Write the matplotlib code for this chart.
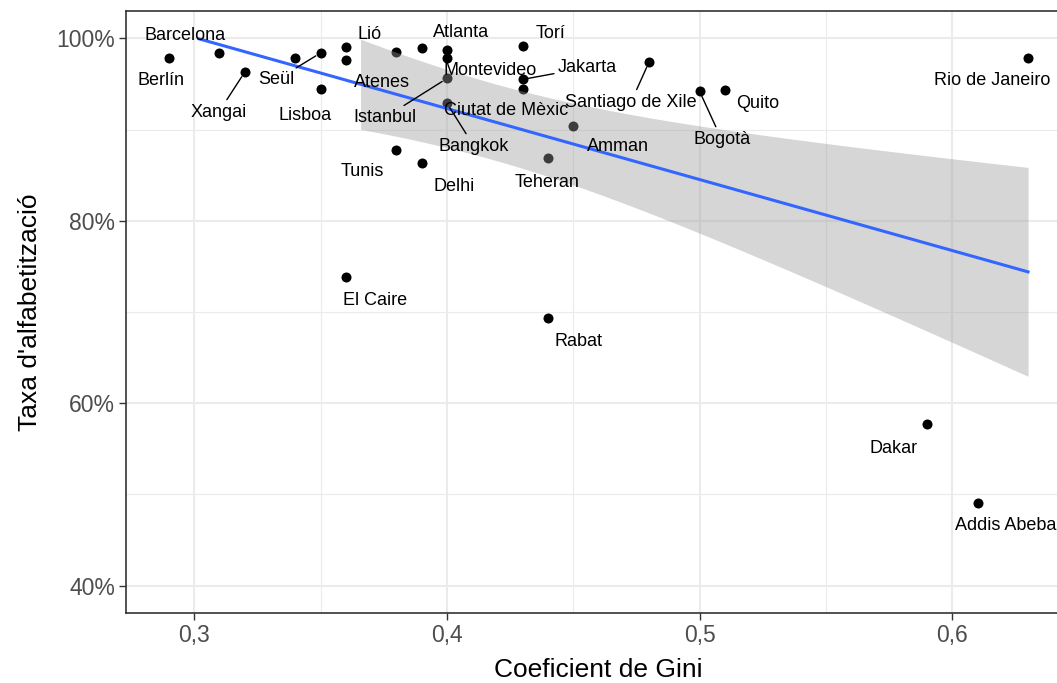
import matplotlib
matplotlib.use("Agg")
import matplotlib.pyplot as plt
import numpy as np

# data (Gini coefficient vs literacy rate)
cities = ["Berlín", "Barcelona", "Xangai", "", "Seül", "Lisboa", "Lió", "Atenes",
          "", "", "Atlanta", "Montevideo", "Istanbul", "Bangkok", "Torí", "Jakarta",
          "Ciutat de Mèxic", "Amman", "Teheran", "Santiago de Xile", "Bogotà", "Quito",
          "Rio de Janeiro", "Tunis", "Delhi", "El Caire", "Rabat", "Dakar", "Addis Abeba"]
gini = [0.29, 0.31, 0.32, 0.34, 0.35, 0.35, 0.36, 0.36,
        0.38, 0.39, 0.40, 0.40, 0.40, 0.40, 0.43, 0.43,
        0.43, 0.45, 0.44, 0.48, 0.50, 0.51,
        0.63, 0.38, 0.39, 0.36, 0.44, 0.59, 0.61]
literacy = [0.978, 0.984, 0.963, 0.978, 0.984, 0.945, 0.990, 0.976,
            0.985, 0.989, 0.987, 0.979, 0.956, 0.929, 0.992, 0.955,
            0.945, 0.904, 0.869, 0.974, 0.942, 0.943,
            0.978, 0.878, 0.863, 0.738, 0.693, 0.577, 0.491]

x_ticks = [0.3, 0.4, 0.5, 0.6]
x_ticklabels = ["0,3", "0,4", "0,5", "0,6"]
y_ticks = [0.4, 0.6, 0.8, 1.0]
y_ticklabels = ["40%", "60%", "80%", "100%"]

# label placement (pixel offsets from the point), and which ones get a segment
label_offsets = {
    "Berlín": (-8, -22), "Barcelona": (-34, 17), "Xangai": (-26, -40),
    "Seül": (-44, -27), "Lisboa": (-15, -27), "Lió": (24, 13),
    "Atenes": (36, -22), "Istanbul": (-62, -39), "Atlanta": (14, 18),
    "Montevideo": (43, -13), "Ciutat de Mèxic": (-17, -22), "Bangkok": (27, -43),
    "Torí": (28, 12), "Jakarta": (65, 12), "Santiago de Xile": (-18, -40),
    "Bogotà": (22, -48), "Quito": (33, -13), "Rio de Janeiro": (-36, -22),
    "Tunis": (-34, -22), "Delhi": (32, -23), "Teheran": (-1, -25),
    "Amman": (45, -21), "El Caire": (29, -23), "Rabat": (31, -23),
    "Dakar": (-33, -24), "Addis Abeba": (28, -23),
}
with_segment = ["Xangai", "Seül", "Istanbul", "Bangkok", "Jakarta",
                "Santiago de Xile", "Bogotà"]

x = np.array(gini)
y = np.array(literacy)

# linear fit + 95% confidence band (like geom_smooth(method="lm"))
n = len(x)
b, a = np.polyfit(x, y, 1)
resid = y - (a + b * x)
s = np.sqrt(np.sum(resid ** 2) / (n - 2))
sxx = np.sum((x - x.mean()) ** 2)
t_val = 2.052  # t quantile, df = 27
xs = np.linspace(x.min(), x.max(), 400)
fit = a + b * xs
se = s * np.sqrt(1 / n + (xs - x.mean()) ** 2 / sxx)
upper = fit + t_val * se
lower = fit - t_val * se
# scale limits 0.4..1.0 drop anything outside
fit_plot = np.where(fit > 1.0, np.nan, fit)
band_ok = (upper <= 1.0) & (lower >= 0.4)

plt.rcParams['font.family'] = ['Liberation Sans', 'DejaVu Sans']

fig = plt.figure(figsize=(10.57, 6.83), dpi=100)
# panel runs past the right edge of the image, like the reference
ax = fig.add_axes([126 / 1057, 70 / 683, 945 / 1057, 602 / 683])

ax.set_xlim(0.273, 0.647)
ax.set_ylim(0.37, 1.03)

# theme_bw style grid
for v in [0.35, 0.45, 0.55]:
    ax.axvline(v, color="#EBEBEB", lw=0.8, zorder=0)
for v in [0.5, 0.7, 0.9]:
    ax.axhline(v, color="#EBEBEB", lw=0.8, zorder=0)
for v in x_ticks:
    ax.axvline(v, color="#EBEBEB", lw=1.5, zorder=0)
for v in y_ticks:
    ax.axhline(v, color="#EBEBEB", lw=1.5, zorder=0)

ax.scatter(x, y, s=52, color="black", zorder=2, linewidths=0)
ax.fill_between(xs, lower, upper, where=band_ok, color="#999999", alpha=0.4,
                linewidth=0, zorder=3)
ax.plot(xs, fit_plot, color="#3366FF", lw=2.2, zorder=4)

for name, xi, yi in zip(cities, gini, literacy):
    if name == "":
        continue
    dx, dy = label_offsets[name]
    arrow = None
    if name in with_segment:
        arrow = dict(arrowstyle="-", color="black", lw=1, shrinkA=1, shrinkB=4)
    ax.annotate(name, xy=(xi, yi), xytext=(dx, dy), textcoords="offset pixels",
                ha="center", va="center", fontsize=13, color="black",
                arrowprops=arrow, zorder=5)

ax.set_xticks(x_ticks)
ax.set_xticklabels(x_ticklabels)
ax.set_yticks(y_ticks)
ax.set_yticklabels(y_ticklabels)
ax.tick_params(axis="both", length=5, width=1, color="#333333",
               labelcolor="#4D4D4D", labelsize=16.5, pad=3)

for sp in ax.spines.values():
    sp.set_color("#333333")
    sp.set_linewidth(1.2)

ax.set_xlabel("Coeficient de Gini", fontsize=19, labelpad=8)
ax.set_ylabel("Taxa d'alfabetització", fontsize=19, labelpad=10)

fig.savefig("out.png", dpi=100)
